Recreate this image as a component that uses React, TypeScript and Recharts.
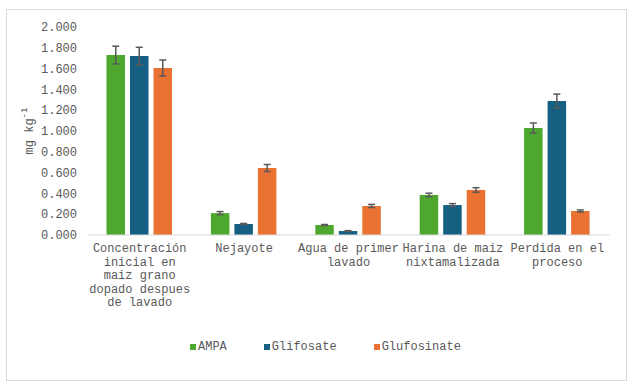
import React from "react";
import { BarChart, Bar, XAxis, YAxis, ErrorBar, Legend } from "recharts";

const categories = [
  "Concentración inicial en maiz grano dopado despues de lavado",
  "Nejayote",
  "Agua de primer lavado",
  "Harina de maiz nixtamalizada",
  "Perdida en el proceso",
];
const categoryLines = [
  ["Concentración", "inicial en", "maiz grano", "dopado despues", "de lavado"],
  ["Nejayote"],
  ["Agua de primer", "lavado"],
  ["Harina de maiz", "nixtamalizada"],
  ["Perdida en el", "proceso"],
];
const ampa = [1.73, 0.21, 0.096, 0.385, 1.029];
const ampaErr = [0.085, 0.015, 0.005, 0.017, 0.048];
const glifosate = [1.72, 0.106, 0.038, 0.288, 1.288];
const glifosateErr = [0.085, 0.005, 0.004, 0.014, 0.067];
const glufosinate = [1.606, 0.644, 0.279, 0.433, 0.231];
const glufosinateErr = [0.077, 0.034, 0.015, 0.022, 0.01];
const yTicks = [0, 0.2, 0.4, 0.6, 0.8, 1.0, 1.2, 1.4, 1.6, 1.8, 2.0];
const seriesNames = ["AMPA", "Glifosate", "Glufosinate"];
const seriesColors = ["#4EA72E", "#156082", "#E97132"];

const data = categories.map((name, i) => ({
  name,
  ampa: ampa[i],
  ampaErr: ampaErr[i],
  glifosate: glifosate[i],
  glifosateErr: glifosateErr[i],
  glufosinate: glufosinate[i],
  glufosinateErr: glufosinateErr[i],
}));

const FONT = "'Liberation Mono', 'DejaVu Sans Mono', monospace";
const TEXT = "#595959";

const XTick = (props: any) => {
  const { x, y, payload } = props;
  const lines = categoryLines[payload.index] || [payload.value];
  return (
    <text x={x} y={y + 17} textAnchor="middle" fill={TEXT} fontFamily={FONT} fontSize={12}>
      {lines.map((l: string, i: number) => (
        <tspan key={i} x={x} dy={i === 0 ? 0 : 13.5}>
          {l}
        </tspan>
      ))}
    </text>
  );
};

const YLabel = (props: any) => {
  const vb = props.viewBox || { x: 0, y: 27, width: 87.5, height: 208 };
  const cx = vb.x + 30;
  const cy = vb.y + vb.height / 2;
  return (
    <text
      x={cx}
      y={cy}
      transform={`rotate(-90, ${cx}, ${cy})`}
      textAnchor="middle"
      dominantBaseline="central"
      fill={TEXT}
      fontFamily={FONT}
      fontSize={12}
    >
      mg kg
      <tspan fontSize={9} dy={-5}>-1</tspan>
    </text>
  );
};

const LegendContent = () => (
  <div
    style={{
      display: "flex",
      alignItems: "center",
      fontFamily: FONT,
      fontSize: 12,
      color: TEXT,
      whiteSpace: "nowrap",
    }}
  >
    {seriesNames.map((n, i) => (
      <div key={n} style={{ display: "flex", alignItems: "center", marginRight: 37 }}>
        <span
          style={{ width: 6, height: 6, background: seriesColors[i], display: "inline-block", marginRight: 2 }}
        />
        <span>{n}</span>
      </div>
    ))}
  </div>
);

export default function App() {
  return (
    <div style={{ position: "absolute", left: 0, top: 0, width: 640, height: 385, background: "#fff" }}>
      <div
        style={{
          position: "absolute",
          left: 6,
          top: 9,
          width: 621,
          height: 372,
          border: "1px solid #D9D9D9",
          boxSizing: "border-box",
        }}
      />
      <div style={{ position: "absolute", left: 0, top: 0 }}>
        <BarChart
          width={640}
          height={385}
          data={data}
          margin={{ top: 27, right: 30.5, bottom: 0, left: 0 }}
          barGap={5}
          barSize={18.5}
        >
          <XAxis
            dataKey="name"
            interval={0}
            tickLine={false}
            tickSize={0}
            tickMargin={0}
            axisLine={{ stroke: "#D9D9D9", strokeWidth: 1 }}
            height={150}
            tick={<XTick />}
          />
          <YAxis
            width={87.5}
            domain={[0, 2]}
            ticks={yTicks}
            interval={0}
            axisLine={false}
            tickLine={false}
            tickSize={0}
            tickMargin={10.5}
            tickFormatter={(v: number) => v.toFixed(3)}
            tick={{ fill: TEXT, fontFamily: FONT, fontSize: 12 }}
            label={<YLabel />}
          />
          <Legend
            verticalAlign="middle"
            layout="horizontal"
            content={<LegendContent />}
            wrapperStyle={{ position: "absolute", top: 340, left: 190, width: 320, height: 16 }}
          />
          <Bar dataKey="ampa" name={seriesNames[0]} fill={seriesColors[0]} isAnimationActive={false}>
            <ErrorBar dataKey="ampaErr" width={3.5} stroke={TEXT} strokeWidth={1.5} isAnimationActive={false} />
          </Bar>
          <Bar dataKey="glifosate" name={seriesNames[1]} fill={seriesColors[1]} isAnimationActive={false}>
            <ErrorBar dataKey="glifosateErr" width={3.5} stroke={TEXT} strokeWidth={1.5} isAnimationActive={false} />
          </Bar>
          <Bar dataKey="glufosinate" name={seriesNames[2]} fill={seriesColors[2]} isAnimationActive={false}>
            <ErrorBar dataKey="glufosinateErr" width={3.5} stroke={TEXT} strokeWidth={1.5} isAnimationActive={false} />
          </Bar>
        </BarChart>
      </div>
    </div>
  );
}
